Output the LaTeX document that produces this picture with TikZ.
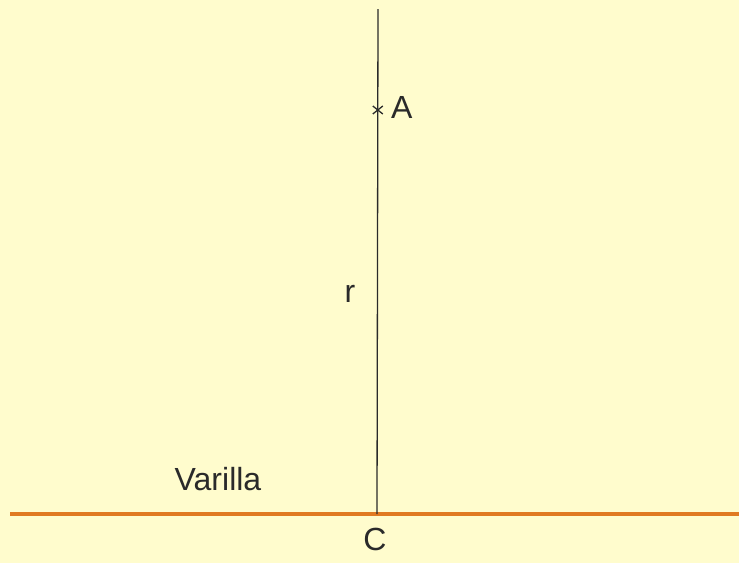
\documentclass[tikz,border=0pt]{standalone}
\usepackage{fontspec}
\setmainfont{Liberation Sans}
\definecolor{bg}{HTML}{FFFCCD}
\definecolor{rod}{HTML}{E07A22}
\definecolor{ink}{HTML}{2A2A2A}
\begin{document}
\begin{tikzpicture}[x=1pt,y=-1pt,
  lbl/.style={inner sep=0pt,text=ink,font=\fontsize{32}{38}\selectfont},
  thin line/.style={draw=ink,line width=1.3pt}]
\fill[bg] (0,0) rectangle (739,563);
\useasboundingbox (0,0) rectangle (739,563);
\coordinate (top) at (378,9);
\coordinate (C) at (377,514);
\coordinate (rodL) at (10,514);
\coordinate (rodR) at (739,514);
\coordinate (A) at (377.8,110);
\draw[rod,line width=4.5pt] (rodL) -- (rodR);
\draw[thin line] (top) -- (C);
\draw[thin line] ([shift={(-5,-4)}]A) -- ([shift={(5,4)}]A);
\draw[thin line] ([shift={(-5,4)}]A) -- ([shift={(5,-4)}]A);
\node[lbl,anchor=west] (labA) at (391,107) {A};
\node[lbl] (labr) at (350,294) {r};
\node[lbl] (labV) at (218,479) {Varilla};
\node[lbl] (labC) at (375,539) {C};
\end{tikzpicture}
\end{document}
